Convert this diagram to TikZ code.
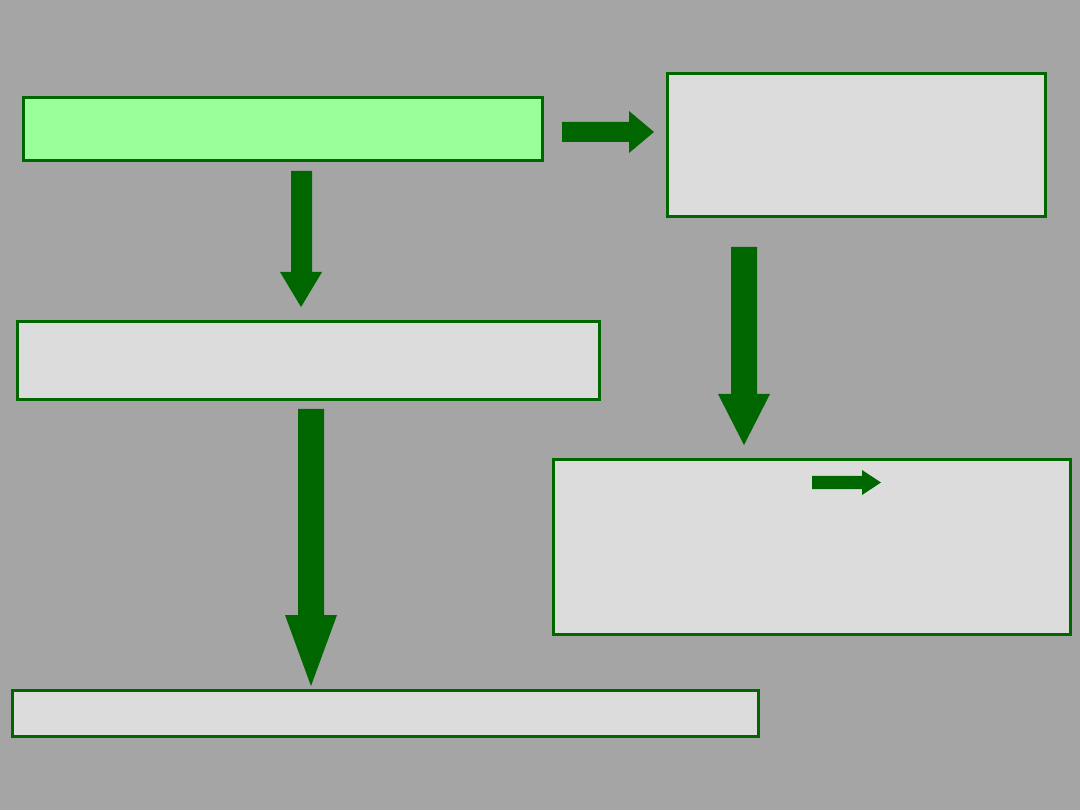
\documentclass[tikz,border=0pt]{standalone}
\usepackage{tikz}
\definecolor{bg}{HTML}{A5A5A5}
\definecolor{boxfill}{HTML}{DCDCDC}
\definecolor{lightgreen}{HTML}{99FF99}
\definecolor{dgreen}{HTML}{006600}
\tikzset{
  box/.style={draw=dgreen, line width=3pt, fill=boxfill, rectangle, inner sep=0pt},
  startbox/.style={box, fill=lightgreen},
  blockarrow/.style={fill=dgreen, draw=none}
}
\begin{document}
\begin{tikzpicture}[x=1pt,y=-1pt]
\fill[bg] (0,0) rectangle (1080,810);
\useasboundingbox (0,0) rectangle (1080,810);
\node[startbox, minimum width=519pt, minimum height=63pt] (A) at (283,129) {};
\node[box, minimum width=378pt, minimum height=143pt] (B) at (856.5,145) {};
\node[box, minimum width=582pt, minimum height=78pt] (C) at (308.5,360.5) {};
\node[box, minimum width=517pt, minimum height=175pt] (D) at (812,547) {};
\node[box, minimum width=746pt, minimum height=46pt] (E) at (385.5,713.5) {};
% A -> B
\fill[blockarrow] (562,122) -- (629,122) -- (629,111) -- (654,132) -- (629,153) -- (629,142) -- (562,142) -- cycle;
% A -> C
\fill[blockarrow] (291,171) -- (312,171) -- (312,272) -- (322,272) -- (301,307) -- (280,272) -- (291,272) -- cycle;
% C -> E
\fill[blockarrow] (298,409) -- (324,409) -- (324,615) -- (337,615) -- (311,686) -- (285,615) -- (298,615) -- cycle;
% B -> D
\fill[blockarrow] (731,247) -- (757,247) -- (757,394) -- (770,394) -- (744,445) -- (718,394) -- (731,394) -- cycle;
% small arrow inside D
\fill[blockarrow] (812,476) -- (862,476) -- (862,470) -- (881,482.5) -- (862,495) -- (862,489) -- (812,489) -- cycle;
\end{tikzpicture}
\end{document}
